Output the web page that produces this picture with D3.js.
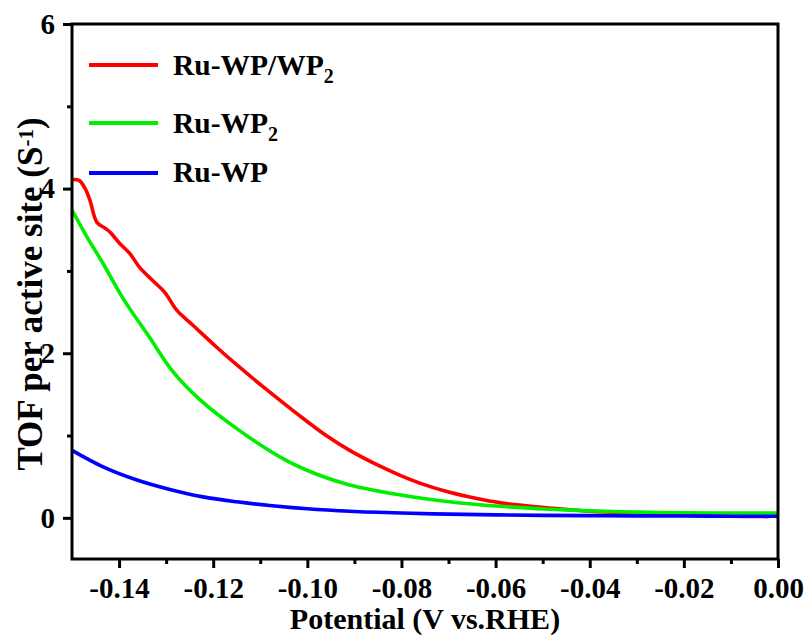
<!DOCTYPE html>
<html>
<head>
<meta charset="utf-8">
<script src="https://cdn.jsdelivr.net/npm/d3@7"></script>
<style>
  html, body { margin: 0; padding: 0; background: #fff; }
  svg text { font-family: "Liberation Serif", "Times New Roman", serif; font-weight: bold; fill: #000; }
</style>
</head>
<body>
<svg id="chart" width="808" height="637"></svg>
<script>
// ---- data ----
const xTicks = [-0.14, -0.12, -0.10, -0.08, -0.06, -0.04, -0.02, 0.00];
const xMinor = [-0.13, -0.11, -0.09, -0.07, -0.05, -0.03, -0.01];
const yTicks = [0, 2, 4, 6];
const yMinor = [1, 3, 5];

const seriesNames = ["Ru-WP/WP", "Ru-WP", "Ru-WP"];
const seriesSubs = ["2", "2", ""];
const seriesColors = ["#ff0000", "#00ee00", "#0000ff"];

const potRed = [-0.150, -0.1485, -0.1472, -0.1462, -0.1447, -0.1430, -0.1419, -0.1398, -0.1377, -0.1356, -0.1328, -0.1303, -0.1277, -0.1243, -0.1192, -0.1144, -0.1087, -0.1023, -0.0960, -0.0910, -0.0850, -0.0804, -0.0750, -0.0698, -0.0640, -0.0592, -0.0540, -0.0486, -0.0400, -0.0300, -0.0200, -0.0100, -0.0020];
const tofRed = [4.11, 4.10, 4.00, 3.86, 3.59, 3.52, 3.47, 3.33, 3.21, 3.04, 2.88, 2.74, 2.52, 2.34, 2.07, 1.83, 1.56, 1.27, 1.00, 0.82, 0.64, 0.52, 0.40, 0.31, 0.235, 0.185, 0.15, 0.12, 0.08, 0.055, 0.035, 0.02, 0.015];

const potGreen = [-0.150, -0.1468, -0.1434, -0.1392, -0.1335, -0.1286, -0.1229, -0.1144, -0.1052, -0.0980, -0.0910, -0.0804, -0.0698, -0.0592, -0.0486, -0.0400, -0.0300, -0.0200, -0.0100, 0.000];
const tofGreen = [3.74, 3.41, 3.09, 2.67, 2.19, 1.78, 1.44, 1.06, 0.72, 0.53, 0.40, 0.28, 0.195, 0.14, 0.105, 0.085, 0.07, 0.062, 0.058, 0.057];

const potBlue = [-0.150, -0.1434, -0.1362, -0.1292, -0.1222, -0.1150, -0.1080, -0.1000, -0.0910, -0.0800, -0.0700, -0.0600, -0.0500, -0.0400, -0.0300, -0.0200, -0.0100, 0.000];
const tofBlue = [0.82, 0.62, 0.46, 0.345, 0.255, 0.195, 0.15, 0.11, 0.08, 0.058, 0.045, 0.036, 0.03, 0.027, 0.024, 0.022, 0.02, 0.02];

// ---- layout ----
const svg = d3.select("#chart");
const L = 72, R = 778, T = 24, B = 559;
const x = d3.scaleLinear().domain([-0.15, 0]).range([L, R]);
const y = d3.scaleLinear().domain([-0.5, 6]).range([B, T]);

const series = [
  { px: potRed, py: tofRed },
  { px: potGreen, py: tofGreen },
  { px: potBlue, py: tofBlue }
];

const line = d3.line().x(d => x(d[0])).y(d => y(d[1])).curve(d3.curveCatmullRom.alpha(0.5));

// curves
series.forEach((s, i) => {
  const pts = s.px.map((v, k) => [v, s.py[k]]);
  svg.append("path").datum(pts)
    .attr("d", line)
    .attr("fill", "none")
    .attr("stroke", seriesColors[i])
    .attr("stroke-width", 3.6)
    .attr("stroke-linejoin", "round");
});

// axes
const axisStyle = g => {
  g.select(".domain").remove();
  g.selectAll(".tick line").attr("stroke", "#000").attr("stroke-width", 3);
  g.selectAll(".tick text").style("font-size", "29px");
};
const fmtX = d => d3.format(".2f")(d).replace("\u2212", "-");

svg.append("g").attr("transform", `translate(0,${B})`)
  .call(d3.axisBottom(x).tickValues(xTicks).tickSize(9).tickPadding(0).tickFormat(fmtX))
  .call(axisStyle)
  .call(g => g.selectAll(".tick text").attr("y", 39).attr("dy", null));
svg.append("g").attr("transform", `translate(0,${B})`)
  .call(d3.axisBottom(x).tickValues(xMinor).tickSize(5).tickFormat(""))
  .call(axisStyle);

svg.append("g").attr("transform", `translate(${L},0)`)
  .call(d3.axisLeft(y).tickValues(yTicks).tickSize(9).tickPadding(8).tickFormat(d3.format("d")))
  .call(axisStyle);
svg.append("g").attr("transform", `translate(${L},0)`)
  .call(d3.axisLeft(y).tickValues(yMinor).tickSize(5).tickFormat(""))
  .call(axisStyle);

// frame
svg.append("rect").attr("x", L).attr("y", T).attr("width", R - L).attr("height", B - T)
  .attr("fill", "none").attr("stroke", "#000").attr("stroke-width", 3);

// axis titles
svg.append("text").attr("x", (L + R) / 2).attr("y", 629)
  .attr("text-anchor", "middle").style("font-size", "30px")
  .text("Potential (V vs.RHE)");

const yt = svg.append("text").attr("transform", "translate(42,294) rotate(-90)")
  .attr("text-anchor", "middle").style("font-size", "35px");
yt.append("tspan").text("TOF per active site (S");
yt.append("tspan").attr("dy", "-0.45em").style("font-size", "21px").text("-1");
yt.append("tspan").attr("dy", "0.28em").text(")");

// legend
const legY = [65, 123, 173];
const legBase = [75, 133, 182];
seriesNames.forEach((n, i) => {
  svg.append("line").attr("x1", 89).attr("x2", 158).attr("y1", legY[i]).attr("y2", legY[i])
    .attr("stroke", seriesColors[i]).attr("stroke-width", 4);
  const t = svg.append("text").attr("x", 173).attr("y", legBase[i]).style("font-size", "29.5px");
  t.append("tspan").text(n);
  if (seriesSubs[i]) t.append("tspan").attr("dy", "0.4em").style("font-size", "20px").text(seriesSubs[i]);
});
</script>
</body>
</html>
